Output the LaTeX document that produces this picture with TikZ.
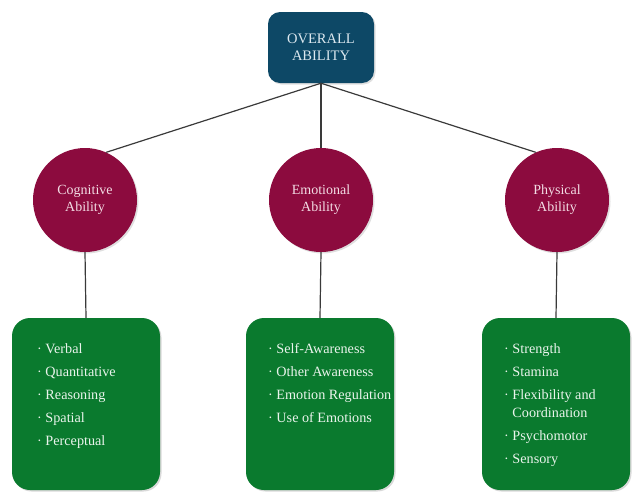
\documentclass[tikz,border=0pt]{standalone}
\usepackage{fontspec}
\setmainfont{Liberation Serif}
\usetikzlibrary{shadows}
\definecolor{topblue}{HTML}{0D4866}
\definecolor{maroon}{HTML}{8C0B3E}
\definecolor{leafgreen}{HTML}{0A7A2E}
\definecolor{toptext}{HTML}{DCE8EF}
\definecolor{circtext}{HTML}{F3DCE4}
\definecolor{leaftext}{HTML}{EAF4EC}
\definecolor{linkgray}{HTML}{3A3A3A}
\tikzset{
  rootbox/.style={draw=none, fill=topblue, rounded corners=12pt,
    minimum width=106pt, minimum height=71pt, text=toptext,
    align=center, font=\fontsize{14.5}{17}\selectfont,
    drop shadow={opacity=0.25, shadow xshift=1.5pt, shadow yshift=-1.5pt}},
  areacircle/.style={circle, draw=none, fill=maroon, minimum size=104pt,
    inner sep=0pt, text=circtext, align=center,
    font=\fontsize{14}{17}\selectfont,
    drop shadow={opacity=0.25, shadow xshift=1.5pt, shadow yshift=-1.5pt}},
  leafbox/.style={draw=none, fill=leafgreen, rounded corners=18pt,
    minimum width=148pt, minimum height=172pt,
    drop shadow={opacity=0.3, shadow xshift=1.5pt, shadow yshift=-1.5pt}},
  itemlist/.style={anchor=north west, inner sep=0pt, text=leaftext,
    align=left, font=\fontsize{14.2}{18}\selectfont},
  link/.style={draw=linkgray, line width=1.2pt}
}
\newcommand{\gap}{\\[5pt]}
\begin{document}
\begin{tikzpicture}[x=1pt,y=-1pt]
  \useasboundingbox (0,0) rectangle (635,496);

  % root
  \node[rootbox] (root) at (321,47.5) {OVERALL\\ABILITY};

  % ability areas
  \node[areacircle] (cog) at (85,200) {Cognitive\\Ability};
  \node[areacircle] (emo) at (321,200) {Emotional\\Ability};
  \node[areacircle] (phy) at (557,200) {Physical\\Ability};

  % detail boxes
  \node[leafbox] (cogbox) at (86,404) {};
  \node[leafbox] (emobox) at (320,404) {};
  \node[leafbox] (phybox) at (556,404) {};

  % connectors
  \draw[link] (root.south) -- (cog.66);
  \draw[link] (root.south) -- (emo.north);
  \draw[link] (root.south) -- (phy.114);
  \draw[link] (cog.south) -- (cogbox.north);
  \draw[link] (emo.south) -- (emobox.north);
  \draw[link] (phy.south) -- (phybox.north);

  % item lists
  \node[itemlist] (cogitems) at (37,343)
    {· Verbal\gap · Quantitative\gap · Reasoning\gap · Spatial\gap · Perceptual};
  \node[itemlist] (emoitems) at (268,343)
    {· Self-Awareness\gap · Other Awareness\gap · Emotion Regulation\gap · Use of Emotions};
  \node[itemlist] (phyitems) at (504,343)
    {· Strength\gap · Stamina\gap · Flexibility and\\\phantom{· }Coordination\gap · Psychomotor\gap · Sensory};
\end{tikzpicture}
\end{document}
